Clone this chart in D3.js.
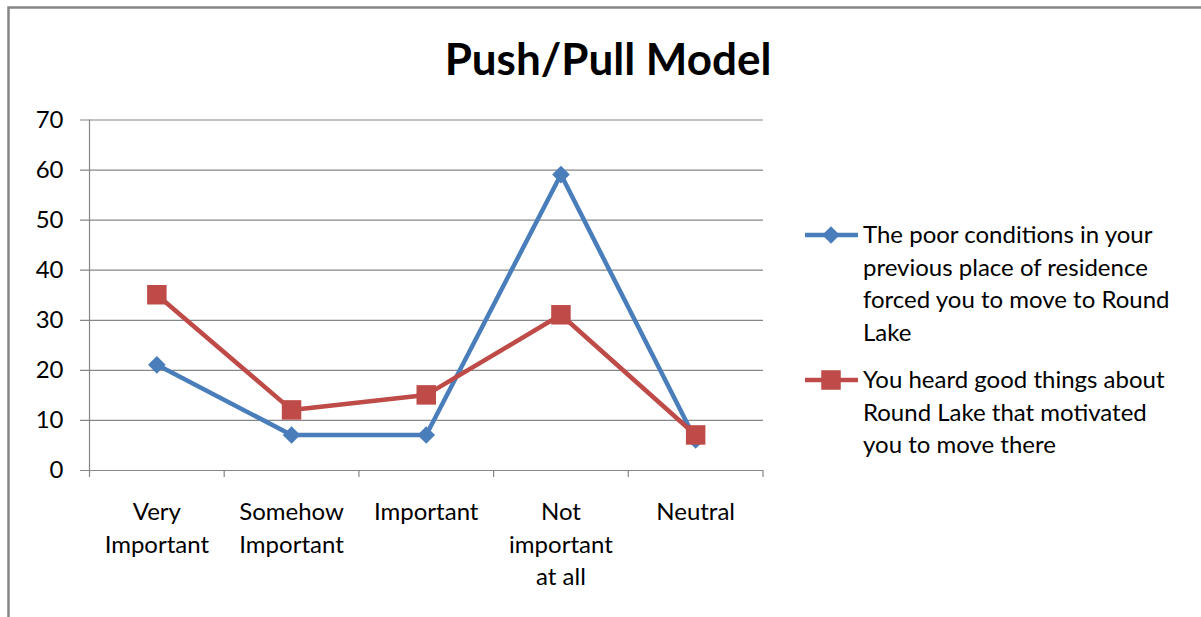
<!DOCTYPE html>
<html>
<head>
<meta charset="utf-8">
<script src="https://cdn.jsdelivr.net/npm/d3@7"></script>
<style>
  body { margin: 0; background: #fff; }
  text { font-family: Lato, "Open Sans", sans-serif; fill: #000; }
</style>
</head>
<body>
<div id="canvas"></div>
<script>
"use strict"

/* chart data */
let categories = [["Very", "Important"], ["Somehow", "Important"], ["Important"], ["Not", "important", "at all"], ["Neutral"]];
let pushValues = [21, 7, 7, 59, 6];
let pullValues = [35, 12, 15, 31, 7];
let yTicks = [0, 10, 20, 30, 40, 50, 60, 70];
let pushLegend = ["The poor conditions in your", "previous place of residence", "forced you to move to Round", "Lake"];
let pullLegend = ["You heard good things about", "Round Lake that motivated", "you to move there"];

let blue = "#4A7EBB";
let red = "#BE4B48";
let gridColor = "#868686";

let drawing = d3.select("#canvas")
    .append("svg")
    .attr("width", 1201)
    .attr("height", 617);

/* outer chart border */
let border = drawing.append("rect")
    .attr("x", 8.5)
    .attr("y", 7.5)
    .attr("width", 1201)
    .attr("height", 640)
    .attr("fill", "none")
    .attr("stroke", gridColor)
    .attr("stroke-width", 2.5);

let title = drawing.append("text")
    .attr("x", 608)
    .attr("y", 75)
    .attr("text-anchor", "middle")
    .attr("font-size", 44)
    .attr("font-weight", "bold")
    .text("Push/Pull Model");

/* scales */
let x = d3.scaleBand()
    .domain(d3.range(categories.length))
    .range([89.5, 763]);

let y = d3.scaleLinear()
    .domain([0, 70])
    .range([470, 119.5]);

/* gridlines + y labels */
let grid = drawing.append("g")
    .attr("transform", "translate(89.5,0)")
    .call(d3.axisLeft(y).tickValues(yTicks).tickSize(-(763 - 89.5)).tickSizeOuter(0).tickPadding(26));
grid.select(".domain").remove();
grid.selectAll(".tick line")
    .attr("x1", -9.5)
    .attr("stroke", gridColor)
    .attr("stroke-width", 1.2);
grid.selectAll(".tick text")
    .attr("font-size", 24)
    .attr("font-family", "Lato")
    .attr("fill", "#000");

/* y axis line */
let yAxisLine = drawing.append("line")
    .attr("x1", 89.5)
    .attr("x2", 89.5)
    .attr("y1", y(70))
    .attr("y2", y(0))
    .attr("stroke", gridColor)
    .attr("stroke-width", 1.2);

/* x axis ticks between categories */
let xTicks = drawing.append("g")
    .selectAll("line")
    .data(d3.range(categories.length + 1))
    .join("line")
    .attr("x1", d => 89.5 + d * x.step())
    .attr("x2", d => 89.5 + d * x.step())
    .attr("y1", y(0))
    .attr("y2", y(0) + 7)
    .attr("stroke", gridColor)
    .attr("stroke-width", 1.2);

/* category labels */
let xLabels = drawing.append("g")
    .selectAll("text")
    .data(categories)
    .join("text")
    .attr("x", (d, i) => x(i) + x.bandwidth() / 2)
    .attr("y", 520)
    .attr("text-anchor", "middle")
    .attr("font-size", 24);
xLabels.selectAll("tspan")
    .data(d => d)
    .join("tspan")
    .attr("x", function () { return d3.select(this.parentNode).attr("x"); })
    .attr("dy", (d, i) => i === 0 ? 0 : 32.5)
    .text(d => d);

/* series lines */
let line = d3.line()
    .x((d, i) => x(i) + x.bandwidth() / 2)
    .y(d => y(d));

let pushLine = drawing.append("path")
    .attr("d", line(pushValues))
    .attr("fill", "none")
    .attr("stroke", blue)
    .attr("stroke-width", 4.5)
    .attr("stroke-linejoin", "round");

let pullLine = drawing.append("path")
    .attr("d", line(pullValues))
    .attr("fill", "none")
    .attr("stroke", red)
    .attr("stroke-width", 4.5)
    .attr("stroke-linejoin", "round");

let diamond = d3.symbol().type(d3.symbolSquare).size(155);
let square = d3.symbol().type(d3.symbolSquare).size(380);

let pushMarkers = drawing.append("g")
    .selectAll("path")
    .data(pushValues)
    .join("path")
    .attr("d", diamond)
    .attr("transform", (d, i) => `translate(${x(i) + x.bandwidth() / 2},${y(d)}) rotate(45)`)
    .attr("fill", blue);

let pullMarkers = drawing.append("g")
    .selectAll("path")
    .data(pullValues)
    .join("path")
    .attr("d", square)
    .attr("transform", (d, i) => `translate(${x(i) + x.bandwidth() / 2},${y(d)})`)
    .attr("fill", red);

/* legend */
function legendEntry(top, color, marker, lines, markerTransform) {
    let g = drawing.append("g");
    g.append("line")
        .attr("x1", 805)
        .attr("x2", 858)
        .attr("y1", top)
        .attr("y2", top)
        .attr("stroke", color)
        .attr("stroke-width", 4.5);
    g.append("path")
        .attr("d", marker)
        .attr("transform", `translate(831,${top}) ${markerTransform}`)
        .attr("fill", color);
    g.append("text")
        .attr("font-size", 24)
        .selectAll("tspan")
        .data(lines)
        .join("tspan")
        .attr("x", 863)
        .attr("y", (d, i) => top + 8 + i * 32.5)
        .text(d => d);
}

legendEntry(235, blue, diamond, pushLegend, "rotate(45)");
legendEntry(380, red, square, pullLegend, "");
</script>
</body>
</html>
